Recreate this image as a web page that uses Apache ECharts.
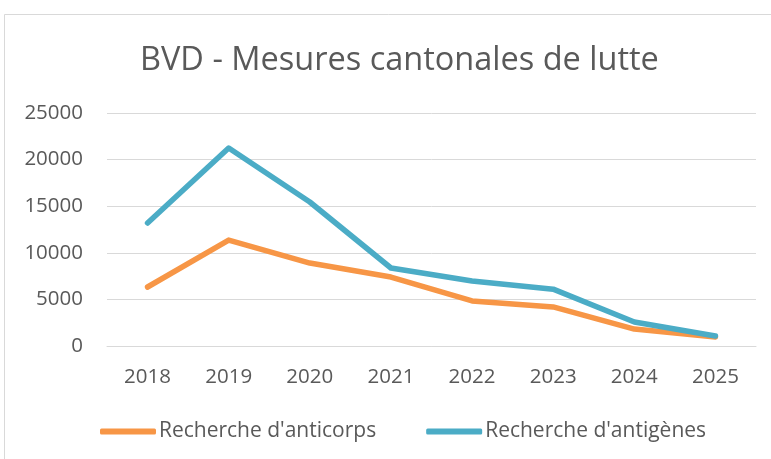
<!DOCTYPE html>
<html>
<head>
<meta charset="utf-8">
<script src="https://cdn.jsdelivr.net/npm/echarts@6/dist/echarts.min.js"></script>
<style>
  html, body { margin: 0; padding: 0; background: #fff; }
  #chart { width: 771px; height: 459px; }
</style>
</head>
<body>
<div id="chart"></div>
<script>
// data
var years = ['2018', '2019', '2020', '2021', '2022', '2023', '2024', '2025'];
var anticorps = [6330, 11370, 8900, 7400, 4830, 4190, 1820, 970];
var antigenes = [13200, 21240, 15450, 8370, 6970, 6100, 2575, 1070];
var yTicks = [0, 5000, 10000, 15000, 20000, 25000];

var textColor = '#595959';
var font = 'Open Sans';

var myChart = echarts.init(document.getElementById('chart'));
var option = {
  backgroundColor: '#fff',
  animation: false,
  textStyle: { fontFamily: font, color: textColor },
  title: {
    text: 'BVD - Mesures cantonales de lutte',
    left: 135,
    top: 39,
    textStyle: { fontFamily: font, fontSize: 32.5, fontWeight: 'normal', color: textColor }
  },
  // outer frame of the chart area
  graphic: [{
    type: 'rect',
    shape: { x: 4.5, y: 14.5, width: 800, height: 500 },
    style: { fill: 'none', stroke: '#d9d9d9', lineWidth: 1 },
    silent: true
  }],
  legend: {
    bottom: 12,
    left: 95,
    itemWidth: 56,
    itemHeight: 6,
    itemGap: 50,
    icon: 'roundRect',
    textStyle: { fontFamily: font, fontSize: 21, color: textColor, padding: [0, 0, 0, -2] },
    data: ["Recherche d'anticorps", "Recherche d'antigènes"]
  },
  grid: { left: 107, right: 15, top: 113, bottom: 113 },
  xAxis: {
    type: 'category',
    data: years,
    boundaryGap: true,
    axisLine: { lineStyle: { color: '#d9d9d9', width: 1 } },
    axisTick: { show: false },
    axisLabel: { fontFamily: font, fontSize: 20.5, color: textColor, margin: 21 }
  },
  yAxis: {
    type: 'value',
    min: yTicks[0],
    max: yTicks[yTicks.length - 1],
    interval: yTicks[1] - yTicks[0],
    axisLine: { show: false },
    axisTick: { show: false },
    splitLine: { lineStyle: { color: '#d9d9d9', width: 1 } },
    axisLabel: {
      fontFamily: font, fontSize: 20.5, color: textColor, margin: 24,
      formatter: function (v) { return String(v); }
    }
  },
  series: [{
    name: "Recherche d'anticorps",
    type: 'line',
    data: anticorps,
    symbol: 'none',
    itemStyle: { color: '#F79646' },
    lineStyle: { color: '#F79646', width: 5.5, cap: 'round', join: 'round' }
  }, {
    name: "Recherche d'antigènes",
    type: 'line',
    data: antigenes,
    symbol: 'none',
    itemStyle: { color: '#4BACC6' },
    lineStyle: { color: '#4BACC6', width: 5.5, cap: 'round', join: 'round' }
  }]
};
myChart.setOption(option);
</script>
</body>
</html>
